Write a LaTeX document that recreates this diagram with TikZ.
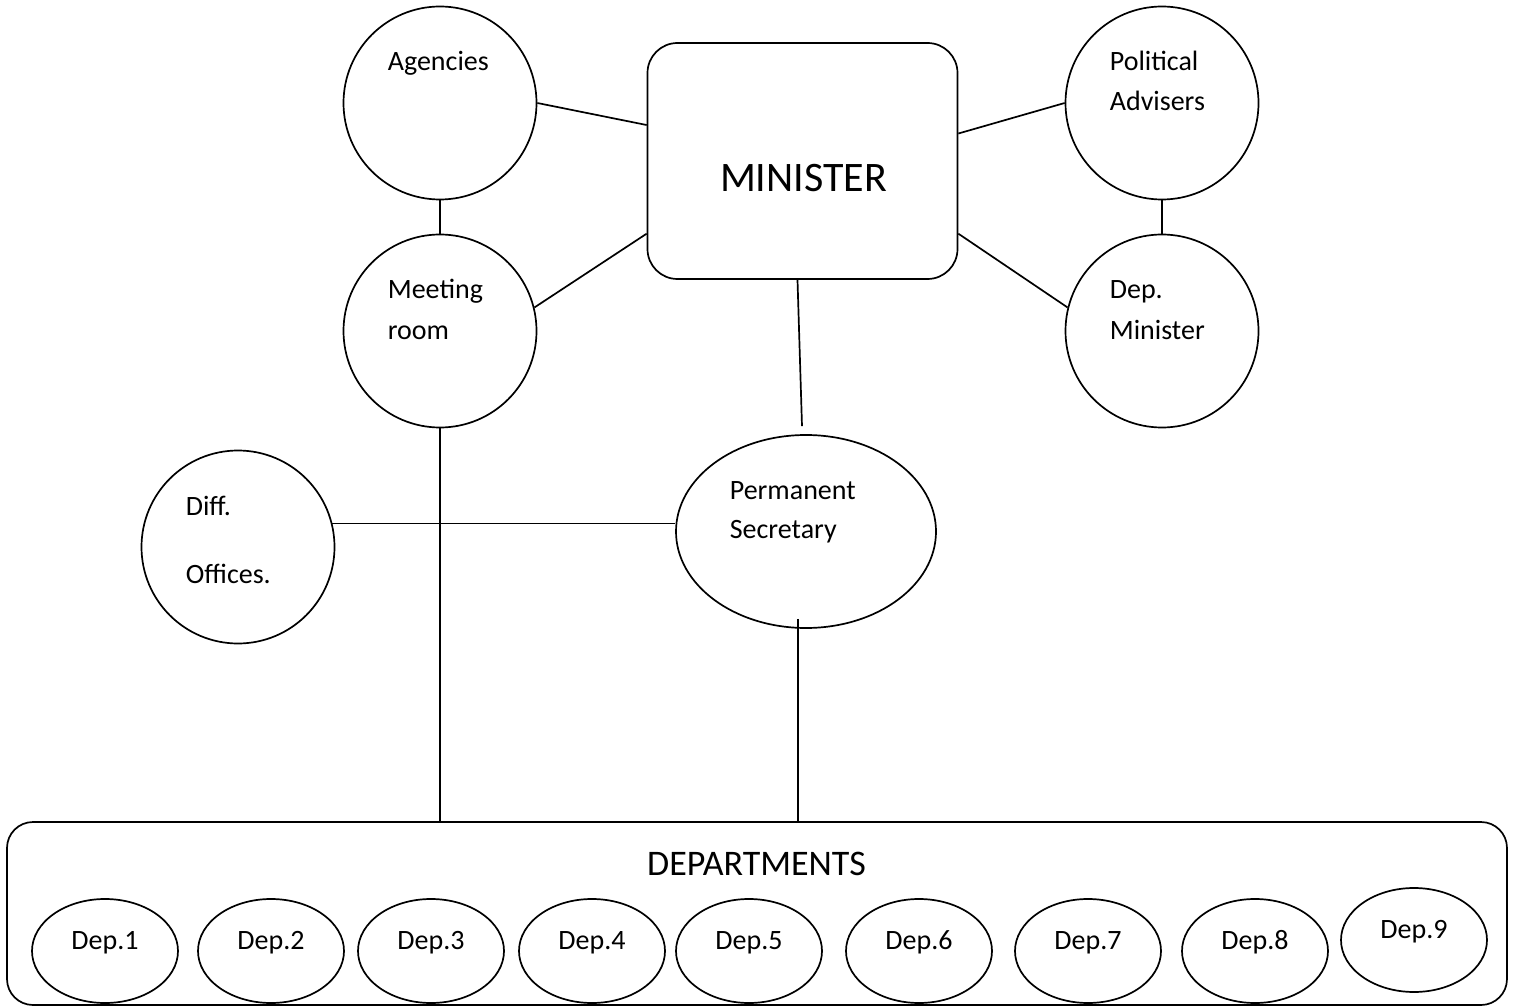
\documentclass[tikz,border=0pt]{standalone}
\usepackage{fontspec}
\setmainfont{Carlito}
\usetikzlibrary{shapes.geometric}
\begin{document}
\begin{tikzpicture}[x=1pt,y=-1pt,line width=1.7pt,
  unit/.style={draw,circle,minimum size=193pt,inner sep=0pt},
  lbl/.style={anchor=base west,inner sep=0pt,font=\fontsize{28}{34}\selectfont},
  depunit/.style={draw,ellipse,minimum width=146pt,minimum height=104pt,inner sep=0pt,
    text height=18pt,text depth=22pt,font=\fontsize{28}{34}\selectfont}]
\useasboundingbox (0,0) rectangle (1513,1008);
% minister and the offices round it
\node[draw,rounded corners=30pt,minimum width=310pt,minimum height=236pt] (minister) at (802.5,161) {};
\node[anchor=base,inner sep=0pt,font=\fontsize{42}{50}\selectfont] (minister-txt) at (803.5,192) {MINISTER};
\node[unit] (agencies) at (440,103) {};
\node[unit] (meeting) at (440,331) {};
\node[unit] (advisers) at (1162,103) {};
\node[unit] (depmin) at (1162,331) {};
\node[unit] (diff) at (238,547) {};
\node[draw,ellipse,minimum width=260pt,minimum height=193pt,inner sep=0pt] (ps) at (806,531.5) {};
\node[lbl] (agencies-l1) at (387,71) {Agencies};
\node[lbl] (meeting-l1) at (387,299) {Meeting};
\node[lbl] (meeting-l2) at (387,340) {room};
\node[lbl] (advisers-l1) at (1109,71) {Political};
\node[lbl] (advisers-l2) at (1109,111) {Advisers};
\node[lbl] (depmin-l1) at (1109,299) {Dep.};
\node[lbl] (depmin-l2) at (1109,340) {Minister};
\node[lbl] (diff-l1) at (185,515) {Diff.};
\node[lbl] (diff-l2) at (185,583) {Offices.};
\node[lbl] (ps-l1) at (729,499) {Permanent};
\node[lbl] (ps-l2) at (729,538) {Secretary};
% departments
\node[draw,rounded corners=26pt,minimum width=1500pt,minimum height=183pt] (depts) at (757,913.5) {};
\node[anchor=base,inner sep=0pt,font=\fontsize{36}{44}\selectfont] (depts-txt) at (756.5,875) {DEPARTMENTS};
\foreach \x/\y/\n in {105/951/1,271/951/2,431/951/3,592/951/4,749/951/5,919/951/6,1088/951/7,1255/951/8,1414/940/9}
  \node[depunit] (dep\n) at (\x,\y) {Dep.\n};
% links
\draw (agencies.east) -- (minister.167);
\draw (minister.10) -- (advisers.west);
\draw (meeting.14) -- (minister.205);
\draw (minister.-25) -- (depmin.166);
\draw (agencies.south) -- (meeting.north);
\draw (advisers.south) -- (depmin.north);
\draw ([xshift=-5pt]minister.south) -- ([xshift=-4pt,yshift=8pt]ps.north);
\draw (diff.14) -- (diff.14 -| ps.west);
\draw (meeting.south) -- (meeting.south |- depts.north);
\draw ([shift={(-8pt,10pt)}]ps.south) -- ([xshift=-8pt]ps.south |- depts.north);
\end{tikzpicture}
\end{document}
